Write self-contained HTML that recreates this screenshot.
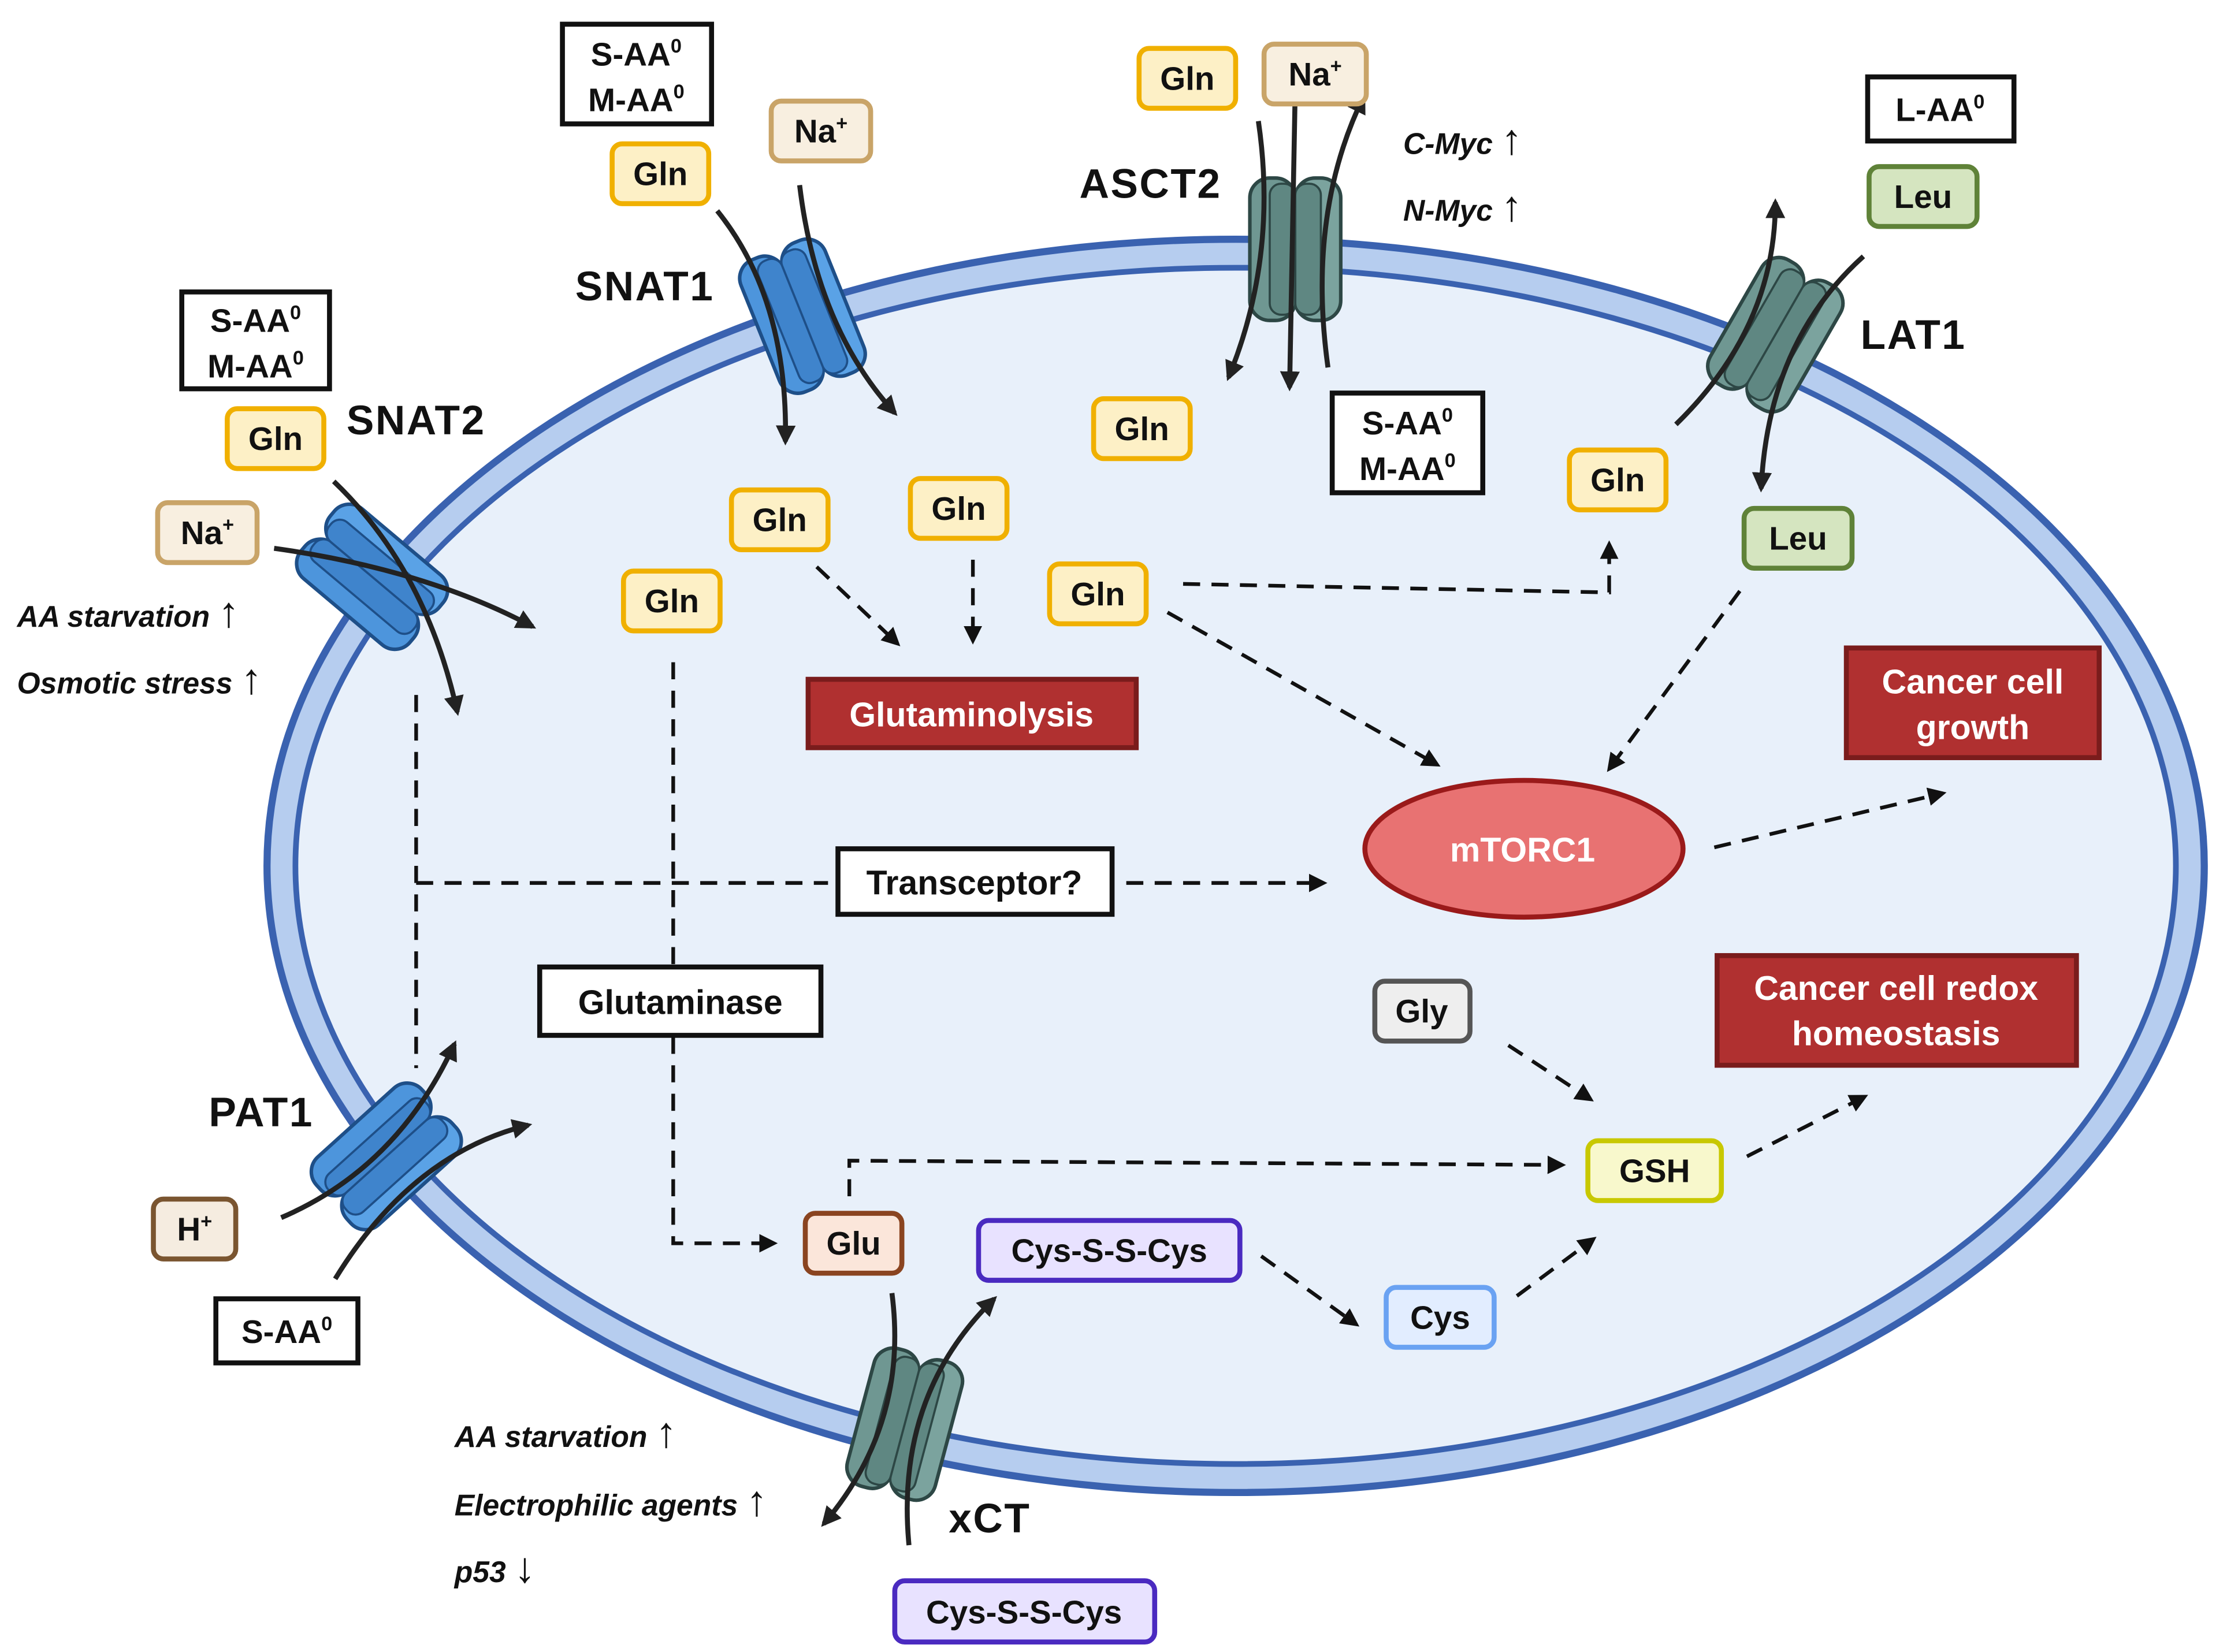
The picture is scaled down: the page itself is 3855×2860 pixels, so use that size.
<!DOCTYPE html>
<html><head><meta charset="utf-8"><style>
html,body{margin:0;padding:0;background:#fff}
svg{display:block}
text{font-family:"Liberation Sans",sans-serif}
.b{font-weight:bold;font-size:23px;fill:#111}
.t{font-weight:bold;font-size:29px;fill:#111;letter-spacing:1px}
.i{font-style:italic;font-weight:bold;font-size:21px;fill:#111}
.w{font-weight:bold;font-size:24px;fill:#fff}
.d{stroke:#111;stroke-width:2.6;stroke-dasharray:12 8;fill:none}
.s{stroke:#222;stroke-width:3.5;fill:none}
</style></head><body>
<svg width="3855" height="2860" viewBox="0 0 1568 1160" preserveAspectRatio="none" xmlns="http://www.w3.org/2000/svg">
<defs>
<marker id="a" viewBox="0 0 10 10" refX="8" refY="5" markerWidth="5" markerHeight="5" orient="auto"><path d="M0,0L10,5L0,10z" fill="#111"/></marker>
<marker id="a2" viewBox="0 0 10 10" refX="8" refY="5" markerWidth="4" markerHeight="4" orient="auto"><path d="M0,0L10,5L0,10z" fill="#222"/></marker>
<g id="tb"><rect x="-32" y="-50" width="32" height="100" rx="14" fill="#4d95dc" stroke="#1e4f88" stroke-width="2.5"/><rect x="0" y="-50" width="32" height="100" rx="14" fill="#5aa2e6" stroke="#1e4f88" stroke-width="2.5"/><rect x="-18" y="-46" width="18" height="92" rx="8" fill="#3f84cc" stroke="#1e4f88" stroke-width="1.5"/><rect x="0" y="-46" width="18" height="92" rx="8" fill="#3f84cc" stroke="#1e4f88" stroke-width="1.5"/></g>
<g id="tg"><rect x="-32" y="-50" width="32" height="100" rx="14" fill="#6f9792" stroke="#2d4745" stroke-width="2.5"/><rect x="0" y="-50" width="32" height="100" rx="14" fill="#7ba39e" stroke="#2d4745" stroke-width="2.5"/><rect x="-18" y="-46" width="18" height="92" rx="8" fill="#5f8782" stroke="#2d4745" stroke-width="1.5"/><rect x="0" y="-46" width="18" height="92" rx="8" fill="#5f8782" stroke="#2d4745" stroke-width="1.5"/></g>
</defs>
<rect width="1568" height="1160" fill="#fff"/>
<!-- cell -->
<ellipse cx="870" cy="608" rx="682" ry="440" fill="#b6cdef" stroke="#3a62b0" stroke-width="5"/>
<ellipse cx="870" cy="608" rx="662" ry="420" fill="#e8f0fa" stroke="#3a62b0" stroke-width="4"/>

<!-- dashed connectors -->
<path class="d" d="M575,398L632,452" marker-end="url(#a)"/>
<path class="d" d="M685,393L685,450" marker-end="url(#a)"/>
<path class="d" d="M833,410L1133,416L1133,382" marker-end="url(#a)"/>
<path class="d" d="M822,430L1012,537" marker-end="url(#a)"/>
<path class="d" d="M1225,415L1133,540" marker-end="url(#a)"/>
<path class="d" d="M1207,595L1368,557" marker-end="url(#a)"/>
<path class="d" d="M474,465L474,678"/>
<path class="d" d="M474,728L474,873L545,873" marker-end="url(#a)"/>
<path class="d" d="M293,488L293,750"/>
<path class="d" d="M293,620L583,620"/>
<path class="d" d="M793,620L932,620" marker-end="url(#a)"/>
<path class="d" d="M598,840L598,815L1100,818" marker-end="url(#a)"/>
<path class="d" d="M1062,734L1120,772" marker-end="url(#a)"/>
<path class="d" d="M1230,812L1313,770" marker-end="url(#a)"/>
<path class="d" d="M888,882L955,930" marker-end="url(#a)"/>
<path class="d" d="M1068,910L1122,870" marker-end="url(#a)"/>

<!-- transporters -->
<use href="#tb" transform="translate(565,222) rotate(-22)"/>
<use href="#tg" transform="translate(912,175)"/>
<use href="#tg" transform="translate(1250,235) rotate(30)"/>
<use href="#tb" transform="translate(262,405) rotate(-50)"/>
<use href="#tb" transform="translate(272,812) rotate(48)"/>
<use href="#tg" transform="translate(637,1000) rotate(15)"/>

<!-- solid arrows -->
<path class="s" d="M505,148Q555,210 553,310" marker-end="url(#a2)"/>
<path class="s" d="M563,130Q575,230 630,290" marker-end="url(#a2)"/>
<path class="s" d="M886,85Q900,180 865,265" marker-end="url(#a2)"/>
<path class="s" d="M912,60L908,272" marker-end="url(#a2)"/>
<path class="s" d="M935,258Q920,150 960,68" marker-end="url(#a2)"/>
<path class="s" d="M1180,298Q1250,230 1250,142" marker-end="url(#a2)"/>
<path class="s" d="M1312,180Q1245,240 1240,343" marker-end="url(#a2)"/>
<path class="s" d="M235,338Q300,400 322,500" marker-end="url(#a2)"/>
<path class="s" d="M193,385Q300,400 375,440" marker-end="url(#a2)"/>
<path class="s" d="M198,855Q280,820 320,733" marker-end="url(#a2)"/>
<path class="s" d="M236,898Q290,810 372,790" marker-end="url(#a2)"/>
<path class="s" d="M628,908Q640,1000 580,1070" marker-end="url(#a2)"/>
<path class="s" d="M640,1085Q630,980 700,912" marker-end="url(#a2)"/>

<!-- black boxes -->
<g fill="#fff" stroke="#111" stroke-width="3.5">
<rect x="396" y="17" width="105" height="70"/>
<rect x="1315" y="54" width="103" height="45"/>
<rect x="938" y="276" width="106" height="70"/>
<rect x="128" y="205" width="104" height="68"/>
<rect x="590" y="596" width="193" height="46"/>
<rect x="380" y="679" width="198" height="48"/>
<rect x="152" y="912" width="100" height="45"/>
</g>
<g class="b" text-anchor="middle">
<text x="448" y="46">S-AA<tspan font-size="14" dy="-9">0</tspan></text>
<text x="448" y="78">M-AA<tspan font-size="14" dy="-9">0</tspan></text>
<text x="1366" y="85">L-AA<tspan font-size="14" dy="-9">0</tspan></text>
<text x="991" y="305">S-AA<tspan font-size="14" dy="-9">0</tspan></text>
<text x="991" y="337">M-AA<tspan font-size="14" dy="-9">0</tspan></text>
<text x="180" y="233">S-AA<tspan font-size="14" dy="-9">0</tspan></text>
<text x="180" y="265">M-AA<tspan font-size="14" dy="-9">0</tspan></text>
<text x="686" y="628" font-size="24">Transceptor?</text>
<text x="479" y="712" font-size="24">Glutaminase</text>
<text x="202" y="943">S-AA<tspan font-size="14" dy="-9">0</tspan></text>
</g>

<!-- colored small boxes -->
<g stroke-width="3.5">
<g fill="#fdf0c6" stroke="#f0b000">
<rect x="431" y="101" width="68" height="42" rx="7"/>
<rect x="802" y="34" width="68" height="42" rx="7"/>
<rect x="770" y="280" width="68" height="42" rx="7"/>
<rect x="1105" y="316" width="68" height="42" rx="7"/>
<rect x="160" y="287" width="68" height="42" rx="7"/>
<rect x="515" y="344" width="68" height="42" rx="7"/>
<rect x="641" y="336" width="68" height="42" rx="7"/>
<rect x="439" y="401" width="68" height="42" rx="7"/>
<rect x="739" y="396" width="68" height="42" rx="7"/>
</g>
<g fill="#f8efe0" stroke="#c9a468">
<rect x="543" y="71" width="70" height="42" rx="7"/>
<rect x="890" y="31" width="72" height="42" rx="7"/>
<rect x="111" y="353" width="70" height="42" rx="7"/>
</g>
<g fill="#d5e5c0" stroke="#5f8238">
<rect x="1316" y="117" width="76" height="42" rx="7"/>
<rect x="1228" y="357" width="76" height="42" rx="7"/>
</g>
<rect x="108" y="842" width="58" height="42" rx="7" fill="#f5ece0" stroke="#7a5530"/>
<rect x="567" y="852" width="68" height="42" rx="7" fill="#fbe6da" stroke="#8a4420"/>
<rect x="968" y="689" width="67" height="42" rx="7" fill="#eee" stroke="#555"/>
<rect x="1118" y="801" width="94" height="42" rx="7" fill="#f8f8cc" stroke="#c8c800"/>
<rect x="976" y="904" width="76" height="42" rx="7" fill="#e2edff" stroke="#6aa2f2"/>
<rect x="689" y="857" width="184" height="42" rx="7" fill="#e8e2ff" stroke="#4a2ac0"/>
<rect x="630" y="1110" width="183" height="43" rx="7" fill="#e8e2ff" stroke="#4a2ac0"/>
</g>
<g class="b" text-anchor="middle">
<text x="465" y="130">Gln</text><text x="836" y="63">Gln</text><text x="804" y="309">Gln</text>
<text x="1139" y="345">Gln</text><text x="194" y="316">Gln</text><text x="549" y="373">Gln</text>
<text x="675" y="365">Gln</text><text x="473" y="430">Gln</text><text x="773" y="425">Gln</text>
<text x="578" y="100">Na<tspan font-size="14" dy="-9">+</tspan></text>
<text x="926" y="60">Na<tspan font-size="14" dy="-9">+</tspan></text>
<text x="146" y="382">Na<tspan font-size="14" dy="-9">+</tspan></text>
<text x="1354" y="146">Leu</text><text x="1266" y="386">Leu</text>
<text x="137" y="871">H<tspan font-size="14" dy="-9">+</tspan></text>
<text x="601" y="881">Glu</text><text x="1001" y="718">Gly</text><text x="1165" y="830">GSH</text>
<text x="1014" y="933">Cys</text><text x="781" y="886">Cys-S-S-Cys</text><text x="721" y="1140">Cys-S-S-Cys</text>
</g>

<!-- red boxes -->
<g fill="#b03030" stroke="#7a1c1c" stroke-width="3.5">
<rect x="569" y="477" width="231" height="48"/>
<rect x="1300" y="455" width="178" height="77"/>
<rect x="1209" y="671" width="253" height="77"/>
</g>
<g class="w" text-anchor="middle">
<text x="684" y="510">Glutaminolysis</text>
<text x="1389" y="487">Cancer cell</text><text x="1389" y="519">growth</text>
<text x="1335" y="702">Cancer cell redox</text><text x="1335" y="734">homeostasis</text>
</g>
<ellipse cx="1073" cy="596" rx="112" ry="48" fill="#e87272" stroke="#9a1a1a" stroke-width="3.5"/>
<text class="w" x="1072" y="605" text-anchor="middle" font-size="26">mTORC1</text>

<!-- transporter labels -->
<g class="t">
<text x="405" y="211">SNAT1</text>
<text x="760" y="139">ASCT2</text>
<text x="1310" y="245">LAT1</text>
<text x="244" y="305">SNAT2</text>
<text x="147" y="791">PAT1</text>
<text x="668" y="1076">xCT</text>
</g>
<g class="i">
<text x="988" y="108">C-Myc <tspan font-style="normal" font-weight="normal" font-size="30">↑</tspan></text>
<text x="988" y="155">N-Myc <tspan font-style="normal" font-weight="normal" font-size="30">↑</tspan></text>
<text x="12" y="440">AA starvation <tspan font-style="normal" font-weight="normal" font-size="30">↑</tspan></text>
<text x="12" y="487">Osmotic stress <tspan font-style="normal" font-weight="normal" font-size="30">↑</tspan></text>
<text x="320" y="1016">AA starvation <tspan font-style="normal" font-weight="normal" font-size="30">↑</tspan></text>
<text x="320" y="1064">Electrophilic agents <tspan font-style="normal" font-weight="normal" font-size="30">↑</tspan></text>
<text x="320" y="1111">p53 <tspan font-style="normal" font-weight="normal" font-size="30">↓</tspan></text>
</g>
</svg>
</body></html>
